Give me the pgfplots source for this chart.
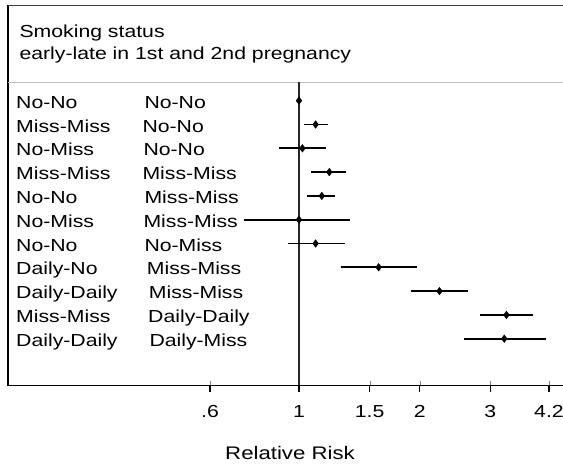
\documentclass[border=0pt]{standalone}
\usepackage{fontspec}
\setmainfont{Liberation Sans}[FakeStretch=1.22]
\usepackage{pgfplots}
\usepackage{pgfplotstable}
\pgfplotsset{compat=1.18}

% relative risk estimates, rows counted from the top
\pgfplotstableread{
row rr
1  1.00
2  1.10
3  1.02
4  1.19
5  1.14
6  1.00
7  1.10
8  1.58
9  2.24
10 3.29
11 3.25
}\estimates

% 95% confidence limits (row 1 is the reference group)
\pgfplotstableread{
row lo   hi
2  1.03 1.18
3  0.89 1.17
4  1.07 1.31
5  1.05 1.23
6  0.73 1.34
7  0.94 1.30
8  1.27 1.97
9  1.90 2.64
10 2.83 3.83
11 2.58 4.13
}\intervals

\begin{document}
\begin{tikzpicture}[x=1pt,y=1pt,font=\fontsize{17.4}{21}\selectfont]
\useasboundingbox (0,0) rectangle (563,466);
\begin{axis}[
  at={(8pt,80.5pt)}, anchor=south west,
  scale only axis, width=555pt, height=380pt,
  xmode=log, xmin=0.1882, xmax=4.552,
  ymin=-0.966, ymax=15.0,
  axis line style={draw=none},
  xtick={0.6,1,1.5,2,3,4.2},
  xticklabels={.6,1,1.5,2,3,4.2},
  xminorticks=false,
  xtick pos=bottom,
  ytick=\empty,
  /pgf/number format/assume math mode=true,
  xticklabel style={anchor=base, yshift=-32pt},
  clip=false,
]
  % frame: left and bottom edges, top edge, header separator
  \draw[line width=1.8pt, black, line cap=rect]
    (rel axis cs:0,1) -- (rel axis cs:0,0) -- (rel axis cs:1,0);
  \draw[line width=1.3pt, black!75] (rel axis cs:0,1) -- (rel axis cs:1,1);
  \draw[line width=1pt, black!25] (axis cs:0.1882,11.773) -- (axis cs:4.552,11.773);
  % tick marks below the bottom edge
  \pgfplotsinvokeforeach{0.6,1,1.5,2,3,4.2}{
    \draw[line width=1.2pt, black]
      (axis cs:#1,-0.966) -- (axis cs:#1,-1.24);
  }
  % null line at RR = 1
  \draw[line width=1.4pt, black!85] (axis cs:1,11.773) -- (axis cs:1,-0.966);

  % confidence intervals
  \pgfplotstablegetrowsof{\intervals}
  \pgfmathtruncatemacro\lastrow{\pgfplotsretval-1}
  \foreach \i in {0,...,\lastrow} {
    \pgfplotstablegetelem{\i}{row}\of\intervals \let\r\pgfplotsretval
    \pgfplotstablegetelem{\i}{lo}\of\intervals \let\lo\pgfplotsretval
    \pgfplotstablegetelem{\i}{hi}\of\intervals \let\hi\pgfplotsretval
    \pgfmathsetmacro\yy{12-\r}
    \edef\seg{\noexpand\addplot[line width=1.7pt, black, mark=none]
      coordinates {(\lo,\yy) (\hi,\yy)};}
    \seg
  }

  % point estimates
  \addplot[only marks, mark=diamond*, mark size=3.8pt, black]
    table[x=rr, y expr=12-\thisrow{row}] {\estimates};
\end{axis}

% header
\node[anchor=base west] at (16,466-37.5) {Smoking status};
\node[anchor=base west] at (16,466-59.5) {early-late in 1st and 2nd pregnancy};

% row labels: early-late in 1st pregnancy, early-late in 2nd pregnancy
\foreach \a/\b/\xb [count=\i] in {
  No-No/No-No/144.3,
  Miss-Miss/No-No/142.3,
  No-Miss/No-No/143.3,
  Miss-Miss/Miss-Miss/142.3,
  No-No/Miss-Miss/144.3,
  No-Miss/Miss-Miss/143.3,
  No-No/No-Miss/144.3,
  Daily-No/Miss-Miss/146.7,
  Daily-Daily/Miss-Miss/148.7,
  Miss-Miss/Daily-Daily/148,
  Daily-Daily/Daily-Miss/149.3} {
  \node[anchor=base west, inner sep=0pt] at (16,{357.6-23.8*(\i-1)}) {\a};
  \node[anchor=base west, inner sep=0pt] at (\xb,{357.6-23.8*(\i-1)}) {\b};
}

% axis title
\node[anchor=base] at (290,6) {\fontsize{18.2}{21}\selectfont Relative Risk};
\end{tikzpicture}
\end{document}
